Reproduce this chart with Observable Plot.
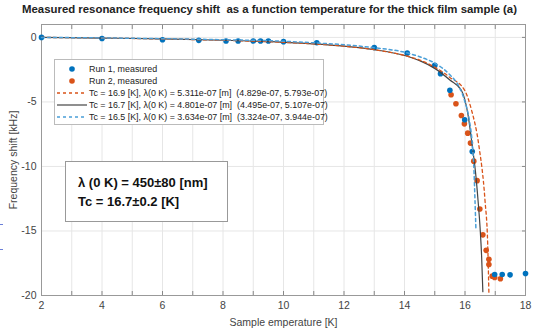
<!DOCTYPE html>
<html><head><meta charset="utf-8">
<script src="https://cdn.jsdelivr.net/npm/d3@7"></script>
<script src="https://cdn.jsdelivr.net/npm/@observablehq/plot@0.6"></script>
<style>
body{margin:0;background:#fff;font-family:Arial,"Liberation Sans",sans-serif;}
#wrap{position:relative;width:539px;height:331px;overflow:hidden;}
#title{position:absolute;left:0;top:3px;width:539px;text-align:center;font-weight:bold;font-size:11.4px;color:#222;white-space:pre;}
#chart{position:absolute;left:0;top:20px;}
#legend{position:absolute;left:54px;top:59px;width:268px;height:64px;border:1px solid #bbb;background:#fff;font-size:8.9px;color:#222;}
.li{position:absolute;left:0;height:12px;line-height:12px;white-space:pre;}
.li svg{position:absolute;left:0;top:0;}
.li span{position:absolute;left:34px;}
#note{position:absolute;left:65px;top:161px;width:161px;height:59px;border:1px solid #999;background:#fff;font-weight:bold;font-size:13px;color:#111;}
#note div{position:absolute;left:12px;white-space:nowrap;}
.art{position:absolute;left:0;width:3px;height:1px;background:#6a7fd8;}
</style></head>
<body><div id="wrap">
<div id="title">Measured resonance frequency shift  as a function temperature for the thick film sample (a)</div>
<div id="chart"></div>
<div id="legend"></div>
<div id="note"><div style="top:13px">λ (0 K) = 450±80 [nm]</div><div style="top:32px">Tc = 16.7±0.2 [K]</div></div>
<div class="art" style="top:224px"></div><div class="art" style="top:249px"></div>
</div>
<script>
// Run 1 measured
const run1T = [2, 4.0, 6.0, 7.2, 8.1, 8.5, 9.0, 9.24, 9.5, 10.0, 11.1, 13.0, 14.09, 15.0, 15.19, 15.5, 15.99, 16.24, 16.98, 17.23, 17.49, 18.0];
const run1F = [0, -0.08, -0.18, -0.23, -0.28, -0.28, -0.28, -0.28, -0.28, -0.33, -0.41, -0.78, -1.22, -2.17, -2.82, -4.1, -6.38, -8.84, -18.37, -18.37, -18.4, -18.3];
// Run 2 measured
const run2T = [15.54, 15.7, 15.88, 15.98, 16.09, 16.18, 16.29, 16.4, 16.49, 16.59, 16.7, 16.79, 16.79, 16.9, 16.98, 17.17];
const run2F = [-4.44, -5.14, -6.05, -6.7, -7.42, -8.19, -9.59, -11.1, -13.3, -15.3, -16.5, -17.2, -17.6, -18.5, -18.6, -18.7];
// Fit Tc = 16.9 (orange dashed)
const fitAT = [2, 4, 6, 8, 10, 11, 12, 13, 14, 14.5, 15, 15.5, 15.99, 16.2, 16.46, 16.66, 16.75, 16.79];
const fitAF = [0, -0.05, -0.12, -0.22, -0.38, -0.5, -0.68, -0.95, -1.4, -1.75, -2.3, -3.1, -4.1, -5.5, -8.4, -12.6, -16, -19.8];
// Fit Tc = 16.7 (black)
const fitBT = [2, 4, 6, 8, 10, 11, 12, 13, 14, 14.5, 15, 15.5, 15.88, 16.1, 16.24, 16.35, 16.43, 16.5, 16.55, 16.59];
const fitBF = [0, -0.05, -0.12, -0.22, -0.38, -0.5, -0.68, -0.95, -1.4, -1.8, -2.4, -3.3, -4.1, -6.0, -8.4, -10.5, -12.6, -14.8, -17.0, -19.7];
// Fit Tc = 16.5 (blue dashed)
const fitCT = [2, 4, 6, 8, 10, 11, 12, 13, 14, 14.5, 15, 15.5, 15.8, 16.0, 16.15, 16.25, 16.3, 16.33, 16.36];
const fitCF = [0, -0.04, -0.1, -0.18, -0.3, -0.42, -0.57, -0.8, -1.15, -1.5, -2.0, -2.9, -3.8, -5.0, -6.5, -8.5, -10.5, -12.6, -14.8];

const legendLabels = ["Run 1, measured", "Run 2, measured",
  "Tc = 16.9 [K], λ(0 K) = 5.311e-07 [m]  (4.829e-07, 5.793e-07)",
  "Tc = 16.7 [K], λ(0 K) = 4.801e-07 [m]  (4.495e-07, 5.107e-07)",
  "Tc = 16.5 [K], λ(0 K) = 3.634e-07 [m]  (3.324e-07, 3.944e-07)"];
const xTicks = [2, 4, 6, 8, 10, 12, 14, 16, 18];
const yTicks = [0, -5, -10, -15, -20];

const C1 = "#0072BD", C2 = "#D95319", CB = "#444444", CC = "#4a9fd8";
const zip = (T, F) => T.map((t, i) => ({T: t, F: F[i]}));
const minorX = d3.range(2, 19);

const plot = Plot.plot({
  width: 539, height: 311,
  marginTop: 4, marginBottom: 36, marginLeft: 41, marginRight: 14,
  style: {fontFamily: "Arial, 'Liberation Sans', sans-serif", fontSize: "10.5px", color: "#333", background: "#fff"},
  x: {domain: [2, 18], label: null},
  y: {domain: [-20, 1], label: null},
  marks: [
    Plot.ruleX(minorX.slice(1, -1), {stroke: "#e6e6e6", strokeWidth: 1}),
    Plot.ruleY([-15, -10, -5, 0], {stroke: "#e6e6e6", strokeWidth: 1}),
    Plot.axisX({anchor: "bottom", ticks: minorX, tickSize: -4, tickFormat: () => "", stroke: "#888"}),
    Plot.axisX({anchor: "top", ticks: minorX, tickSize: -4, tickFormat: () => "", stroke: "#888"}),
    Plot.axisX({anchor: "bottom", ticks: xTicks, tickSize: 0, tickPadding: 6, tickFormat: d => String(d), fill: "#444", label: "Sample emperature [K]", labelAnchor: "center", labelOffset: 30, labelArrow: "none"}),
    Plot.axisY({anchor: "left", ticks: yTicks, tickSize: 0, tickPadding: 5, tickFormat: d => String(d), fill: "#444", label: "Frequency shift [kHz]", labelAnchor: "center", labelOffset: 32, labelArrow: "none"}),
    Plot.axisY({anchor: "right", ticks: yTicks, tickSize: -4, tickFormat: () => "", stroke: "#888"}),
    Plot.frame({stroke: "#999"}),
    Plot.dot(zip(run2T, run2F), {x: "T", y: "F", r: 2.8, fill: C2, stroke: "none"}),
    Plot.dot(zip(run1T, run1F), {x: "T", y: "F", r: 2.8, fill: C1, stroke: "none"}),
    Plot.line(zip(fitBT, fitBF), {x: "T", y: "F", stroke: CB, strokeWidth: 1.2, curve: "monotone-x"}),
    Plot.line(zip(fitAT, fitAF), {x: "T", y: "F", stroke: C2, strokeWidth: 1.3, strokeDasharray: "3,3", curve: "monotone-x"}),
    Plot.line(zip(fitCT, fitCF), {x: "T", y: "F", stroke: CC, strokeWidth: 1.5, strokeDasharray: "3,3", curve: "monotone-x"})
  ]
});
document.getElementById("chart").appendChild(plot);

// legend
const leg = document.getElementById("legend");
const sw = [
  `<circle cx="17" cy="6" r="2.8" fill="${C1}"/>`,
  `<circle cx="17" cy="6" r="2.8" fill="${C2}"/>`,
  `<line x1="2" x2="32" y1="6" y2="6" stroke="${C2}" stroke-width="1.3" stroke-dasharray="3,3"/>`,
  `<line x1="2" x2="32" y1="6" y2="6" stroke="${CB}" stroke-width="1.2"/>`,
  `<line x1="2" x2="32" y1="6" y2="6" stroke="${CC}" stroke-width="1.5" stroke-dasharray="3,3"/>`
];
legendLabels.forEach((lab, i) => {
  const d = document.createElement("div");
  d.className = "li";
  d.style.top = (3 + i * 12) + "px";
  d.innerHTML = `<svg width="34" height="12">${sw[i]}</svg><span>${lab}</span>`;
  leg.appendChild(d);
});
</script>
</body></html>
